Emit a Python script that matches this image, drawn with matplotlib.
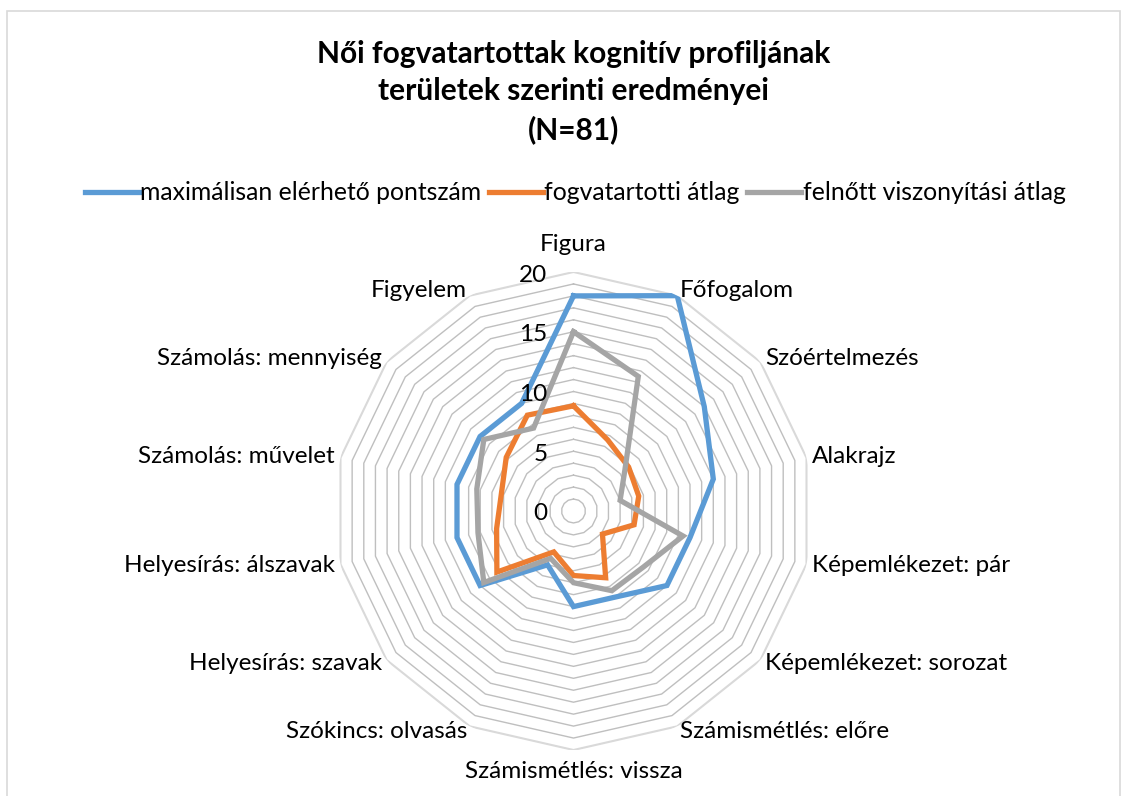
import numpy as np
import matplotlib
matplotlib.use('Agg')
import matplotlib.pyplot as plt
from matplotlib.lines import Line2D
from matplotlib.patches import Rectangle

plt.rcParams['font.family'] = ['Lato', 'DejaVu Sans']

categories = ['Figura', 'Főfogalom', 'Szóértelmezés', 'Alakrajz',
              'Képemlékezet: pár', 'Képemlékezet: sorozat',
              'Számismétlés: előre', 'Számismétlés: vissza',
              'Szókincs: olvasás', 'Helyesírás: szavak',
              'Helyesírás: álszavak', 'Számolás: művelet',
              'Számolás: mennyiség', 'Figyelem']

max_score = [18, 20, 14, 12, 10, 10, 8, 8, 5, 10, 10, 10, 10, 10]
inmate_avg = [8.8, 6.6, 5.9, 5.6, 5.2, 3.1, 6.2, 5.4, 3.8, 8.2, 6.6, 6.2, 7.2, 8.9]
adult_avg = [15, 12.5, 5.5, 4, 9.4, 7.5, 7.4, 6, 4.4, 9.6, 8.2, 8.3, 9.6, 7.7]

series_names = ['maximálisan elérhető pontszám', 'fogvatartotti átlag',
                'felnőtt viszonyítási átlag']
series_colors = ['#5B9BD5', '#ED7D31', '#A5A5A5']
radial_ticks = [0, 5, 10, 15, 20]

W, H = 1132, 796
fig = plt.figure(figsize=(W / 100, H / 100), dpi=100)

# outer chart border (bottom edge is cut off in the original)
fig.add_artist(Rectangle((7 / W, -0.1), (1120 - 7) / W, (H - 11) / H + 0.1,
                         transform=fig.transFigure, fill=False,
                         edgecolor='#d9d9d9', lw=1.2))

cx, cy, R = 573.5, 511, 239
ax = fig.add_axes([(cx - R) / W, (H - cy - R) / H, 2 * R / W, 2 * R / H],
                  projection='polar')
ax.set_theta_zero_location('N')
ax.set_theta_direction(-1)
ax.set_ylim(0, 20)
ax.grid(False)
ax.set_xticks([])
ax.set_yticks([])
ax.spines['polar'].set_visible(False)
ax.patch.set_alpha(0)

n = len(categories)
angles = np.arange(n) * 2 * np.pi / n
closed = np.append(angles, angles[0])

# polygon gridlines, one per unit
for r in range(1, 21):
    col = '#d9d9d9' if r == 20 else '#bfbfbf'
    ax.plot(closed, [r] * (n + 1), color=col, lw=1.0 if r < 20 else 1.5, zorder=1)

for vals, col in zip([max_score, inmate_avg, adult_avg], series_colors):
    ax.plot(closed, vals + vals[:1], color=col, lw=3.8, zorder=3,
            solid_joinstyle='miter')

# category labels
lab_fs = 17.5
for ang, lab in zip(angles, categories):
    deg = np.degrees(ang)
    if deg < 1:
        ax.text(ang, 21.4, lab, ha='center', va='bottom', fontsize=lab_fs)
    elif abs(deg - 180) < 1:
        ax.text(ang, 20.9, lab, ha='center', va='top', fontsize=lab_fs)
    elif deg < 180:
        ax.text(ang, 20.5, lab, ha='left', va='center', fontsize=lab_fs)
    else:
        ax.text(ang, 20.5, lab, ha='right', va='center', fontsize=lab_fs)

# radial value labels
for v in radial_ticks:
    ax.annotate(str(v), xy=(0, v), xytext=(-26, -3), textcoords='offset pixels',
                ha='right', va='center', fontsize=lab_fs)

fig.text(0.5066, 1 - 92 / H,
         'Női fogvatartottak kognitív profiljának\nterületek szerinti eredményei\n(N=81)',
         ha='center', va='center', fontsize=21.5, fontweight='bold',
         linespacing=1.42)

handles = [Line2D([], [], color=c, lw=3.8) for c in series_colors]
fig.legend(handles, series_names, loc='center', bbox_to_anchor=(0.508, 1 - 193 / H),
           ncol=3, frameon=False, fontsize=17.8, handlelength=2.2,
           handletextpad=0.05, columnspacing=0.3)

fig.savefig('out.png', dpi=100)
